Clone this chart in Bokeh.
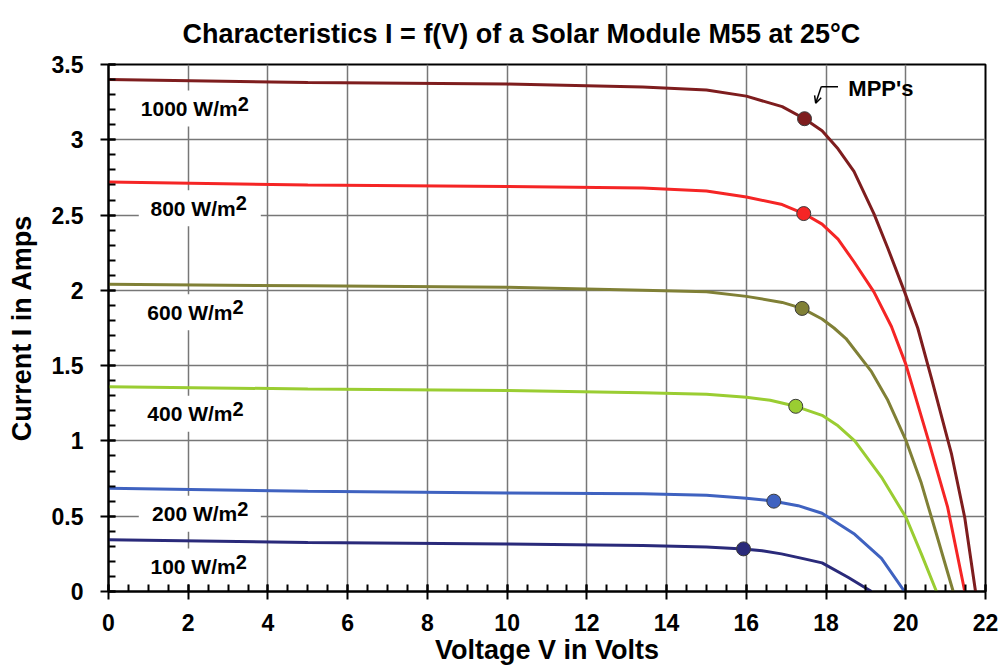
from bokeh.plotting import figure
from bokeh.models import Range1d, FixedTicker, NumeralTickFormatter, Arrow, OpenHead
from bokeh.core.properties import value
from bokeh.embed import file_html
from bokeh.resources import INLINE

FONT = "Liberation Sans"

# ---- data ----
series_names = ["1000 W/m", "800 W/m", "600 W/m", "400 W/m", "200 W/m", "100 W/m"]
series_colors = ["#7E1D1E", "#F52525", "#808036", "#9ACD32", "#3F62C0", "#2A2A7A"]

v_1000 = [0, 5, 10, 13.4, 15.0, 16.0, 16.9, 17.46, 17.9, 18.3, 18.7, 19.2, 19.55, 19.97, 20.3, 20.64, 21.15, 21.48, 21.75]
i_1000 = [3.40, 3.38, 3.37, 3.35, 3.33, 3.29, 3.22, 3.14, 3.06, 2.94, 2.79, 2.51, 2.28, 1.99, 1.75, 1.42, 0.91, 0.49, 0.0]

v_800 = [0, 5, 10, 13.4, 15.0, 16.0, 16.9, 17.44, 17.9, 18.3, 18.7, 19.2, 19.64, 20.0, 20.55, 21.05, 21.48]
i_800 = [2.72, 2.70, 2.69, 2.68, 2.66, 2.62, 2.57, 2.51, 2.44, 2.34, 2.19, 1.99, 1.76, 1.51, 1.02, 0.56, 0.0]

v_600 = [0, 5, 10, 13.4, 15.0, 16.0, 16.9, 17.40, 17.9, 18.2, 18.5, 19.14, 19.55, 20.01, 20.39, 20.77, 21.19]
i_600 = [2.04, 2.03, 2.02, 2.00, 1.99, 1.96, 1.92, 1.88, 1.81, 1.75, 1.68, 1.46, 1.27, 1.00, 0.72, 0.38, 0.0]

v_400 = [0, 5, 10, 13.4, 15.0, 16.0, 16.6, 17.24, 17.9, 18.3, 18.72, 19.39, 20.01, 20.39, 20.77]
i_400 = [1.36, 1.345, 1.335, 1.32, 1.31, 1.29, 1.27, 1.23, 1.17, 1.10, 1.00, 0.76, 0.49, 0.25, 0.0]

v_200 = [0, 5, 10, 13.4, 15.0, 16.0, 16.69, 17.3, 17.9, 18.72, 19.39, 19.97]
i_200 = [0.685, 0.665, 0.655, 0.65, 0.64, 0.62, 0.60, 0.57, 0.52, 0.38, 0.22, 0.0]

v_100 = [0, 5, 10, 13.4, 15.0, 15.93, 16.4, 16.88, 17.4, 17.9, 18.55, 19.14]
i_100 = [0.343, 0.325, 0.315, 0.305, 0.295, 0.283, 0.27, 0.25, 0.22, 0.19, 0.095, 0.0]

mpp_v = [17.46, 17.44, 17.40, 17.24, 16.69, 15.93]
mpp_i = [3.14, 2.51, 1.88, 1.23, 0.60, 0.283]

x_ticks = [0, 2, 4, 6, 8, 10, 12, 14, 16, 18, 20, 22]
x_minor = [k * 0.5 for k in range(45)]
y_ticks = [0, 0.5, 1, 1.5, 2, 2.5, 3, 3.5]
y_minor = [round(k * 0.1, 1) for k in range(36)]

# label anchor positions (end of "W/m") and box centres
lab_v = [3.24, 3.19, 3.11, 3.11, 3.23, 3.19]
lab_i = [3.207, 2.545, 1.855, 1.18, 0.517, 0.166]
box_v = [2.25, 2.29, 2.16, 2.13, 2.29, 2.30]

curves = [(v_1000, i_1000), (v_800, i_800), (v_600, i_600),
          (v_400, i_400), (v_200, i_200), (v_100, i_100)]

p = figure(width=1000, height=672, output_backend="svg", toolbar_location=None,
           x_range=Range1d(0, 22), y_range=Range1d(0, 3.5),
           min_border_left=108, min_border_right=15, min_border_top=63, min_border_bottom=81,
           title="Characteristics I = f(V) of a Solar Module M55 at 25°C")

p.title.text_font = FONT
p.title.text_font_size = "27px"
p.title.text_font_style = "bold"
p.title.text_color = "black"
p.title.align = "left"
p.title.offset = 74
p.title.standoff = 32

p.outline_line_color = "black"
p.outline_line_width = 2
p.background_fill_color = "white"
p.border_fill_color = "white"

for ax in (p.xaxis[0], p.yaxis[0]):
    ax.axis_line_color = "black"
    ax.axis_line_width = 2
    ax.major_tick_line_color = "black"
    ax.major_tick_line_width = 2
    ax.minor_tick_line_color = "black"
    ax.minor_tick_line_width = 2
    ax.major_tick_in = 7
    ax.major_tick_out = 8
    ax.minor_tick_in = 7
    ax.minor_tick_out = 0
    ax.major_label_text_font = FONT
    ax.major_label_text_font_style = "bold"
    ax.major_label_text_font_size = "23px"
    ax.major_label_text_color = "black"
    ax.axis_label_text_font = FONT
    ax.axis_label_text_font_style = "bold"
    ax.axis_label_text_font_size = "27px"
    ax.axis_label_text_color = "black"

p.xaxis.ticker = FixedTicker(ticks=x_ticks, minor_ticks=x_minor)
p.yaxis.ticker = FixedTicker(ticks=y_ticks, minor_ticks=y_minor)
p.xaxis.formatter = NumeralTickFormatter(format="0.[0]")
p.yaxis.formatter = NumeralTickFormatter(format="0.[0]")
p.xaxis.axis_label = "Voltage V in Volts"
p.yaxis.axis_label = "Current I in Amps"
p.xaxis.major_label_standoff = 14
p.yaxis.major_label_standoff = 17
p.xaxis.axis_label_standoff = 1
p.yaxis.axis_label_standoff = 12

p.xgrid.grid_line_color = "#777777"
p.ygrid.grid_line_color = "#777777"
p.xgrid.grid_line_width = 1.5
p.ygrid.grid_line_width = 1.5

# white boxes behind the irradiance labels
p.rect(x=box_v, y=lab_i, width=122, height=36, width_units="screen", height_units="screen",
       fill_color="white", line_color=None)

for (vv, ii), col in zip(curves, series_colors):
    p.line(vv, ii, line_color=col, line_width=3)

p.scatter(mpp_v, mpp_i, size=14, fill_color=series_colors, line_color="#3a3a3a", line_width=1)

p.text(x=lab_v, y=lab_i, text=series_names, text_align="right", text_baseline="middle",
       text_font=value(FONT), text_font_style="bold", text_font_size="21px", text_color="black")
p.text(x=lab_v, y=lab_i, text=["2"] * 6, text_align="left", text_baseline="middle", y_offset=-5,
       text_font=value(FONT), text_font_style="bold", text_font_size="20px", text_color="black")

# MPP annotation
p.text(x=[18.56], y=[3.34], text=["MPP's"], text_align="left", text_baseline="middle",
       text_font=value(FONT), text_font_style="bold", text_font_size="22px", text_color="black")
p.line([18.30, 17.88], [3.353, 3.353], line_color="black", line_width=1.5)
p.add_layout(Arrow(end=OpenHead(size=7, line_width=1.5, line_color="black"),
                   x_start=17.88, y_start=3.353, x_end=17.74, y_end=3.243,
                   line_color="black", line_width=1.5))

open("out.html", "w").write(file_html(p, INLINE))
